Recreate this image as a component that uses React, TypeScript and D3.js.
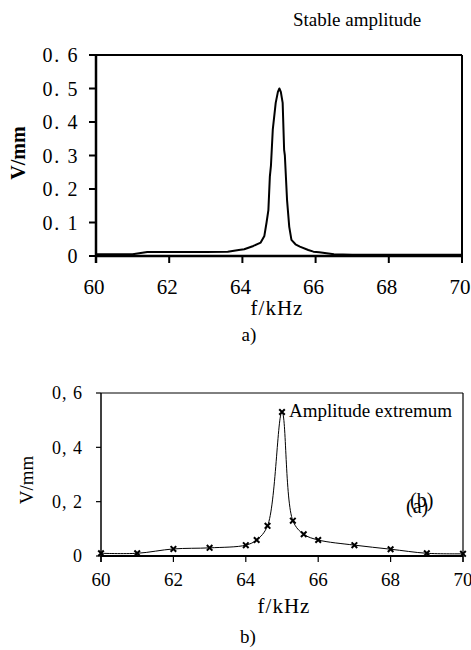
import React from "react";
import * as d3 from "d3";

// Panel a) stable amplitude measurement
const freqA = [60, 61, 61.4, 62, 63, 63.6, 63.9, 64.05, 64.3, 64.5, 64.6, 64.66, 64.71, 64.75, 64.78, 64.83, 64.91, 64.97, 65.01, 65.05, 65.1, 65.14, 65.16, 65.22, 65.28, 65.34, 65.45, 65.57, 65.8, 65.94, 66.1, 66.5, 67, 68, 69, 70];
const ampA = [0.005, 0.005, 0.012, 0.012, 0.012, 0.013, 0.018, 0.02, 0.03, 0.04, 0.06, 0.1, 0.137, 0.237, 0.27, 0.377, 0.457, 0.49, 0.5, 0.49, 0.457, 0.317, 0.3, 0.167, 0.087, 0.048, 0.035, 0.028, 0.018, 0.013, 0.011, 0.005, 0.004, 0.004, 0.004, 0.004];

// Panel b) amplitude extremum points
const freqB = [60, 61, 62, 63, 64, 64.3, 64.6, 65, 65.3, 65.6, 66, 67, 68, 69, 70];
const ampB = [0.01, 0.01, 0.026, 0.03, 0.04, 0.059, 0.111, 0.53, 0.13, 0.08, 0.059, 0.04, 0.025, 0.01, 0.008];

const xTicks = [60, 62, 64, 66, 68, 70];
const yTicksA = [0, 0.1, 0.2, 0.3, 0.4, 0.5, 0.6];
const yTicksB = [0, 0.2, 0.4, 0.6];

const serif = '"Liberation Serif", "Times New Roman", "DejaVu Serif", serif';

export default function App() {
  // panel a scales
  const xA = d3.scaleLinear().domain([60, 70]).range([96, 462]);
  const yA = d3.scaleLinear().domain([0, 0.6]).range([256, 55]);
  // panel b scales
  const xB = d3.scaleLinear().domain([60, 70]).range([101, 463]);
  const yB = d3.scaleLinear().domain([0, 0.6]).range([556, 393]);

  const lineA = d3
    .line<number>()
    .x((_, i) => xA(freqA[i]))
    .y((d) => yA(d))
    .curve(d3.curveLinear)(ampA) as string;

  const lineB = d3
    .line<number>()
    .x((_, i) => xB(freqB[i]))
    .y((d) => yB(d))
    .curve(d3.curveCatmullRom.alpha(0.5))(ampB) as string;

  const cross = d3.symbol().type(d3.symbolTimes).size(22)() as string;

  const fmtA = (v: number) => (v === 0 ? "0" : d3.format(".1f")(v).replace(".", ". "));
  const fmtB = (v: number) => (v === 0 ? "0" : d3.format(".1f")(v).replace(".", ", "));

  const T = { fontFamily: serif } as React.CSSProperties;

  return (
    <div style={{ position: "absolute", left: 0, top: 0 }}>
      <svg width={471} height={650} style={{ display: "block", background: "#fff", fontFamily: serif }}>
        {/* ---------- Panel a ---------- */}
        <text x={293} y={26} style={T} fontSize={19} fill="#000">
          Stable amplitude
        </text>
        {/* frame */}
        <line x1={xA(60)} x2={xA(70)} y1={yA(0.6)} y2={yA(0.6)} stroke="#000" strokeWidth={2} />
        <line x1={xA(70)} x2={xA(70)} y1={yA(0.6)} y2={yA(0) + 7} stroke="#000" strokeWidth={2} />
        <line x1={xA(60)} x2={xA(60)} y1={yA(0.6)} y2={yA(0) + 7} stroke="#000" strokeWidth={2.5} />
        <line x1={xA(60)} x2={xA(70) + 1} y1={yA(0)} y2={yA(0)} stroke="#000" strokeWidth={2.5} />
        {/* y ticks */}
        {yTicksA.map((t) => (
          <g key={"ya" + t}>
            <line x1={xA(60) - 7} x2={xA(60)} y1={yA(t)} y2={yA(t)} stroke="#000" strokeWidth={2} />
            <text
              x={79}
              y={yA(t)}
              dy="0.35em"
              textAnchor="end"
              fontSize={20}
              letterSpacing={1.6}
              style={{ ...T, whiteSpace: "pre" }}
            >
              {fmtA(t)}
            </text>
          </g>
        ))}
        {/* x ticks */}
        {xTicks.map((t) => (
          <g key={"xa" + t}>
            <line x1={xA(t)} x2={xA(t)} y1={yA(0)} y2={yA(0) + 7} stroke="#000" strokeWidth={2} />
            <text x={xA(t) - 2} y={294} textAnchor="middle" style={T} fontSize={21}>
              {t}
            </text>
          </g>
        ))}
        <path d={lineA} fill="none" stroke="#000" strokeWidth={2} strokeLinejoin="round" />
        <text x={277} y={315} textAnchor="middle" style={T} fontSize={21} letterSpacing={1}>
          f/kHz
        </text>
        <text
          transform={`translate(25,153) rotate(-90)`}
          textAnchor="middle"
          style={T}
          fontSize={20}
          fontWeight="bold"
        >
          V/mm
        </text>
        <text x={249} y={341} textAnchor="middle" style={T} fontSize={19}>
          a)
        </text>

        {/* ---------- Panel b ---------- */}
        <line x1={xB(60)} x2={xB(70)} y1={yB(0.6)} y2={yB(0.6)} stroke="#000" strokeWidth={1} />
        <line x1={xB(70)} x2={xB(70)} y1={yB(0.6)} y2={yB(0) + 6} stroke="#000" strokeWidth={1.2} />
        <line x1={xB(60)} x2={xB(60)} y1={yB(0.6)} y2={yB(0) + 6} stroke="#000" strokeWidth={1.5} />
        <line x1={xB(60)} x2={xB(70)} y1={yB(0)} y2={yB(0)} stroke="#000" strokeWidth={2} />
        {yTicksB.map((t) => (
          <g key={"yb" + t}>
            <line x1={xB(60) - 5} x2={xB(60)} y1={yB(t)} y2={yB(t)} stroke="#000" strokeWidth={1.2} />
            <text
              x={83}
              y={yB(t)}
              dy="0.35em"
              textAnchor="end"
              fontSize={18}
              letterSpacing={1}
              style={{ ...T, whiteSpace: "pre" }}
            >
              {fmtB(t)}
            </text>
          </g>
        ))}
        {xTicks.map((t) => (
          <g key={"xb" + t}>
            <line x1={xB(t)} x2={xB(t)} y1={yB(0)} y2={yB(0) + 6} stroke="#000" strokeWidth={1.2} />
            <text x={xB(t)} y={586} textAnchor="middle" style={T} fontSize={19}>
              {t}
            </text>
          </g>
        ))}
        <path d={lineB} fill="none" stroke="#000" strokeWidth={1} />
        {ampB.map((v, i) => (
          <path
            key={"m" + i}
            d={cross}
            transform={`translate(${xB(freqB[i])},${yB(v)})`}
            fill="none"
            stroke="#000"
            strokeWidth={2}
          />
        ))}
        <text x={289} y={417} style={T} fontSize={19}>
          Amplitude extremum
        </text>
        <text x={410} y={507} style={T} fontSize={20}>
          (b)
        </text>
        <text x={406} y={513} style={T} fontSize={20}>
          (a)
        </text>
        <text x={284} y={613} textAnchor="middle" style={T} fontSize={21} letterSpacing={1}>
          f/kHz
        </text>
        <text
          transform={`translate(33,480) rotate(-90)`}
          textAnchor="middle"
          style={T}
          fontSize={19}
        >
          V/mm
        </text>
        <text x={248} y={643} textAnchor="middle" style={T} fontSize={19}>
          b)
        </text>
      </svg>
    </div>
  );
}
